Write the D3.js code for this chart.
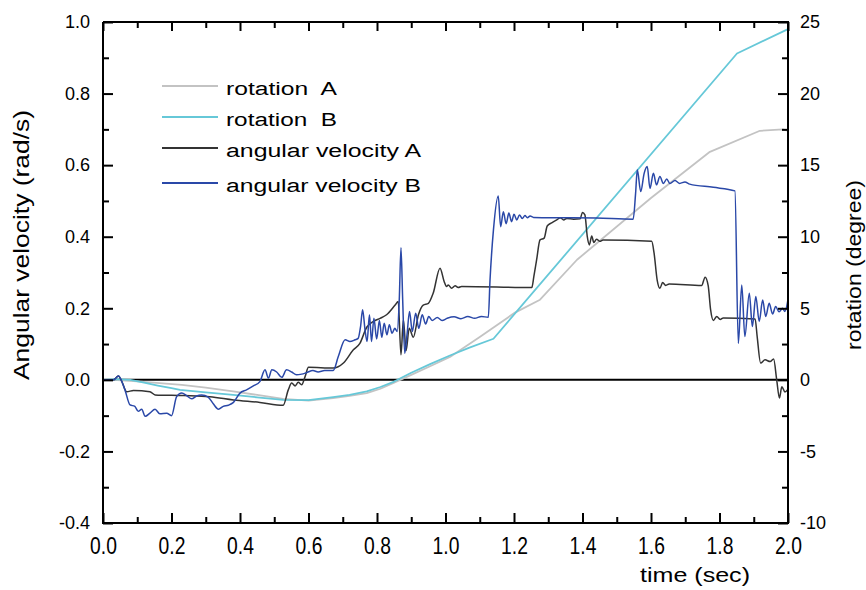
<!DOCTYPE html>
<html><head><meta charset="utf-8">
<script src="https://cdn.jsdelivr.net/npm/d3@7/dist/d3.min.js"></script>
<style>
body{margin:0;background:#fff;}
svg text{font-family:"Liberation Sans",Arial,sans-serif;fill:#000;}
</style></head>
<body>
<svg id="c" width="866" height="590"></svg>
<script>
// ---- data ----
const xTicks = [0.0,0.2,0.4,0.6,0.8,1.0,1.2,1.4,1.6,1.8,2.0];
const yLeftTicks = [-0.4,-0.2,0.0,0.2,0.4,0.6,0.8,1.0];
const yRightTicks = [-10,-5,0,5,10,15,20,25];
const seriesNames = ["rotation  A","rotation  B","angular velocity A","angular velocity B"];

const rotATime = [0,0.03,0.1,0.23,0.3,0.38,0.45,0.526,0.6,0.672,0.72,0.77,0.81,0.85,0.9,0.955,1.013,1.1,1.203,1.276,1.384,1.6,1.772,1.918,1.985,2.0];
const rotA     = [0,0,-0.1,-0.35,-0.55,-0.8,-1.05,-1.33,-1.45,-1.27,-1.12,-0.93,-0.62,-0.2,0.35,0.95,1.6,3.0,4.7,5.6,8.39,12.7,15.93,17.4,17.5,17.4];

const rotBTime = [0,0.04,0.08,0.12,0.16,0.2,0.225,0.3,0.38,0.45,0.526,0.6,0.672,0.72,0.77,0.81,0.85,0.9,0.955,1.013,1.07,1.14,1.851,2.0];
const rotB     = [0,0.05,0,-0.2,-0.4,-0.58,-0.7,-0.88,-1.05,-1.22,-1.4,-1.42,-1.2,-1.05,-0.8,-0.5,-0.12,0.5,1.1,1.7,2.25,2.87,22.8,24.5];

const velATime = [0,0.03,0.045,0.055,0.069,0.089,0.137,0.152,0.235,0.312,0.381,0.458,0.526,0.541,0.551,0.561,0.570,0.580,0.590,0.600,0.672,0.702,0.731,0.750,0.770,0.789,0.809,0.828,0.853,0.862,0.870,0.877,0.885,0.894,0.906,0.921,0.935,0.950,0.964,0.984,0.996,1.003,1.008,1.018,1.028,1.037,1.047,1.252,1.258,1.266,1.276,1.288,1.297,1.310,1.325,1.335,1.345,1.354,1.374,1.393,1.400,1.407,1.414,1.420,1.427,1.433,1.441,1.451,1.460,1.602,1.609,1.618,1.626,1.634,1.643,1.653,1.748,1.758,1.767,1.774,1.782,1.792,1.802,1.811,1.904,1.910,1.920,1.933,1.948,1.958,1.967,1.975,1.982,1.991,2.0];
const velA     = [0,0,0.011,-0.005,-0.033,-0.030,-0.033,-0.042,-0.044,-0.047,-0.056,-0.063,-0.071,-0.028,-0.009,-0.017,-0.007,-0.014,0.009,0.035,0.033,0.047,0.084,0.102,0.147,0.163,0.172,0.182,0.209,0.219,0.070,0.168,0.082,0.144,0.119,0.182,0.209,0.214,0.242,0.312,0.275,0.261,0.265,0.256,0.263,0.258,0.261,0.258,0.289,0.335,0.391,0.396,0.430,0.439,0.447,0.453,0.447,0.451,0.449,0.450,0.468,0.461,0.400,0.377,0.402,0.384,0.393,0.387,0.391,0.387,0.354,0.279,0.256,0.272,0.264,0.268,0.264,0.287,0.263,0.196,0.166,0.177,0.169,0.173,0.170,0.121,0.047,0.056,0.051,0.058,0.0,-0.051,-0.019,-0.034,-0.026];

const velBTime = [0,0.03,0.045,0.064,0.079,0.093,0.103,0.113,0.123,0.137,0.152,0.166,0.186,0.200,0.215,0.230,0.244,0.259,0.273,0.288,0.307,0.322,0.337,0.351,0.366,0.381,0.400,0.419,0.439,0.458,0.473,0.483,0.493,0.507,0.522,0.536,0.551,0.565,0.580,0.594,0.613,0.628,0.647,0.672,0.687,0.707,0.721,0.736,0.745,0.752,0.758,0.765,0.771,0.778,0.784,0.791,0.799,0.807,0.814,0.821,0.829,0.836,0.844,0.852,0.859,0.865,0.870,0.875,0.881,0.888,0.895,0.903,0.913,0.922,0.932,0.942,0.951,0.961,0.976,0.990,1.005,1.025,1.045,1.065,1.085,1.105,1.125,1.130,1.140,1.154,1.161,1.169,1.177,1.185,1.193,1.200,1.208,1.216,1.224,1.232,1.239,1.247,1.257,1.344,1.441,1.548,1.555,1.560,1.570,1.580,1.589,1.597,1.607,1.616,1.626,1.636,1.646,1.655,1.670,1.684,1.699,1.713,1.782,1.845,1.855,1.865,1.874,1.887,1.896,1.906,1.916,1.926,1.935,1.945,1.955,1.964,1.974,1.984,1.991,2.0];
const velB     = [0,0,0.011,-0.028,-0.070,-0.074,-0.088,-0.082,-0.102,-0.093,-0.082,-0.095,-0.093,-0.100,-0.047,-0.037,-0.044,-0.053,-0.045,-0.042,-0.048,-0.067,-0.082,-0.074,-0.071,-0.063,-0.037,-0.028,-0.017,-0.005,0.028,0.005,0.028,0.022,0.007,0.028,0.022,0.014,0.016,0.020,0.026,0.022,0.026,0.026,0.065,0.112,0.107,0.112,0.116,0.149,0.196,0.140,0.107,0.182,0.107,0.172,0.114,0.166,0.119,0.158,0.126,0.154,0.130,0.144,0.135,0.223,0.369,0.223,0.074,0.130,0.191,0.135,0.186,0.144,0.182,0.156,0.177,0.166,0.174,0.166,0.172,0.176,0.171,0.177,0.172,0.177,0.175,0.279,0.419,0.514,0.428,0.470,0.436,0.466,0.442,0.463,0.447,0.461,0.451,0.459,0.453,0.458,0.454,0.453,0.452,0.449,0.521,0.587,0.526,0.577,0.596,0.535,0.577,0.545,0.568,0.549,0.561,0.549,0.557,0.549,0.553,0.547,0.538,0.528,0.102,0.265,0.121,0.242,0.149,0.233,0.163,0.223,0.177,0.214,0.184,0.205,0.190,0.200,0.191,0.225];

// ---- chart ----
const svg = d3.select("#c");
const L = 103, R = 788, T = 22, B = 523;
const x = d3.scaleLinear().domain([0,2]).range([L,R]);
const yL = d3.scaleLinear().domain([-0.4,1.0]).range([B,T]);
const yR = d3.scaleLinear().domain([-10,25]).range([B,T]);

const colors = ["#c3c3c3","#66c8d8","#333333","#2a48a8"];
const hy = s => s.replace(/\u2212/g,"-");

// zero line
svg.append("line").attr("x1",L).attr("x2",R).attr("y1",yL(0)).attr("y2",yL(0))
  .attr("stroke","#000").attr("stroke-width",2);

const lineR = d3.line().x(d=>x(d[0])).y(d=>yR(d[1]));
const lineL = d3.line().x(d=>x(d[0])).y(d=>yL(d[1])).curve(d3.curveMonotoneX);
const zip = (a,b)=>a.map((v,i)=>[v,b[i]]);

svg.append("path").datum(zip(rotATime,rotA)).attr("d",lineR).attr("fill","none").attr("stroke",colors[0]).attr("stroke-width",1.8).attr("stroke-linejoin","round");
svg.append("path").datum(zip(rotBTime,rotB)).attr("d",lineR).attr("fill","none").attr("stroke",colors[1]).attr("stroke-width",1.8).attr("stroke-linejoin","round");
svg.append("path").datum(zip(velATime,velA)).attr("d",lineL).attr("fill","none").attr("stroke",colors[2]).attr("stroke-width",1.5).attr("stroke-linejoin","round");
svg.append("path").datum(zip(velBTime,velB)).attr("d",lineL).attr("fill","none").attr("stroke",colors[3]).attr("stroke-width",1.5).attr("stroke-linejoin","round");

// axes
const minorX = d3.range(0,2.0001,0.1);
function styleAxis(g){
  g.select(".domain").remove();
  g.selectAll(".tick line").attr("stroke","#000").attr("stroke-width",2);
}
// bottom
const gB = svg.append("g").attr("transform",`translate(0,${B})`)
  .call(d3.axisBottom(x).tickValues(minorX).tickSizeInner(-6).tickSizeOuter(0).tickFormat(""));
styleAxis(gB);
gB.selectAll(".tick line").filter(d=>Math.abs(Math.round(d*10)%2)===0).attr("y2",-10);
const gBL = svg.append("g").attr("transform",`translate(0,${B})`)
  .call(d3.axisBottom(x).tickValues(xTicks).tickSize(0).tickPadding(15).tickFormat(d=>hy(d3.format(".1f")(d))));
gBL.select(".domain").remove();
gBL.selectAll("text").attr("font-family","'Liberation Sans',Arial,sans-serif").attr("font-size",23)
  .attr("transform","scale(0.84,1)").attr("fill","#000");
// top
const gT = svg.append("g").attr("transform",`translate(0,${T})`)
  .call(d3.axisTop(x).tickValues(minorX).tickSizeInner(-6).tickSizeOuter(0).tickFormat(""));
styleAxis(gT);
gT.selectAll(".tick line").filter(d=>Math.abs(Math.round(d*10)%2)===0).attr("y2",9);
// left
const minorYL = d3.range(-0.4,1.0001,0.1);
const gL = svg.append("g").attr("transform",`translate(${L},0)`)
  .call(d3.axisLeft(yL).tickValues(minorYL).tickSizeInner(-6).tickSizeOuter(0).tickFormat(""));
styleAxis(gL);
gL.selectAll(".tick line").filter((d,i)=>i%2===0).attr("x2",10);
const gLL = svg.append("g").attr("transform",`translate(${L},0)`)
  .call(d3.axisLeft(yL).tickValues(yLeftTicks).tickSize(0).tickPadding(13).tickFormat(d=>hy(d3.format(".1f")(d))));
gLL.select(".domain").remove();
gLL.selectAll("text").attr("font-family","'Liberation Sans',Arial,sans-serif").attr("font-size",18).attr("fill","#000");
// right
const minorYR = d3.range(-10,25.001,2.5);
const gR = svg.append("g").attr("transform",`translate(${R},0)`)
  .call(d3.axisRight(yR).tickValues(minorYR).tickSizeInner(-6).tickSizeOuter(0).tickFormat(""));
styleAxis(gR);
gR.selectAll(".tick line").filter((d,i)=>i%2===0).attr("x2",-10);
const gRL = svg.append("g").attr("transform",`translate(${R},0)`)
  .call(d3.axisRight(yR).tickValues(yRightTicks).tickSize(0).tickPadding(12).tickFormat(d=>hy(d3.format("d")(d))));
gRL.select(".domain").remove();
gRL.selectAll("text").attr("font-family","'Liberation Sans',Arial,sans-serif").attr("font-size",18).attr("fill","#000");

// frame lines
svg.append("path").attr("d",`M${L},${T}V${B}H${R}V${T}H${L}`).attr("fill","none").attr("stroke","#000").attr("stroke-width",2);

// axis titles
svg.append("text").attr("transform",`translate(29,245) rotate(-90)`).attr("text-anchor","middle")
  .attr("font-size",22).attr("textLength",270).attr("lengthAdjust","spacingAndGlyphs").text("Angular velocity (rad/s)");
svg.append("text").attr("transform",`translate(861,265) rotate(-90)`).attr("text-anchor","middle")
  .attr("font-size",21).attr("textLength",170).attr("lengthAdjust","spacingAndGlyphs").text("rotation (degree)");
svg.append("text").attr("x",695).attr("y",582).attr("text-anchor","middle")
  .attr("font-size",21).attr("textLength",110).attr("lengthAdjust","spacingAndGlyphs").text("time (sec)");

// legend
const legY = [86,117,148,183];
const legLen = [111,111,195,195];
const leg = svg.append("g");
seriesNames.forEach((n,i)=>{
  leg.append("line").attr("x1",162).attr("x2",218).attr("y1",legY[i]).attr("y2",legY[i])
    .attr("stroke",colors[i]).attr("stroke-width",1.8);
  leg.append("text").attr("x",226).attr("y",legY[i]+9).attr("font-size",18)
    .attr("xml:space","preserve").style("white-space","pre")
    .attr("textLength",legLen[i]).attr("lengthAdjust","spacingAndGlyphs").text(n);
});
</script>
</body></html>
